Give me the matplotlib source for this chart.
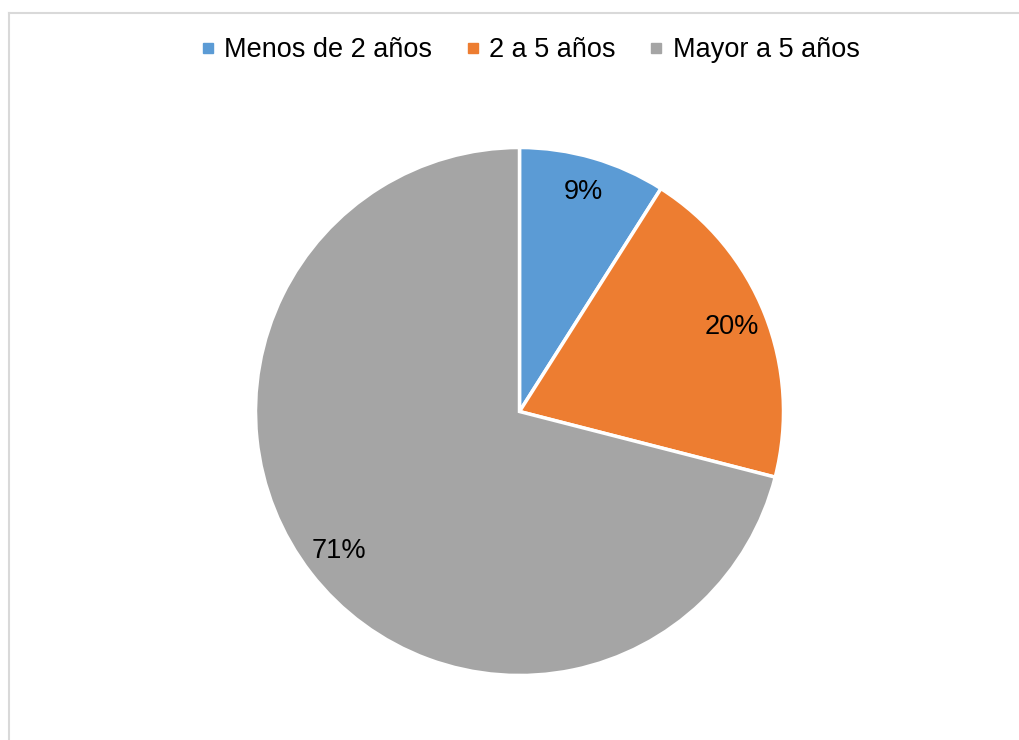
import matplotlib
matplotlib.use("Agg")
import matplotlib.pyplot as plt
from matplotlib.lines import Line2D

plt.rcParams['font.family'] = ['Liberation Sans', 'DejaVu Sans']

# Datos
categorias = ["Menos de 2 años", "2 a 5 años", "Mayor a 5 años"]
porcentajes = [9, 20, 71]
colores = ["#5b9bd5", "#ed7d31", "#a5a5a5"]

W, H = 1019, 740
fig = plt.figure(figsize=(W / 100, H / 100), dpi=100)

# Borde gris claro del área del gráfico
fig.add_artist(Line2D([9 / W, 9 / W], [0, 1 - 13 / H], color="#d9d9d9", lw=1.5))
fig.add_artist(Line2D([9 / W, 1], [1 - 13 / H, 1 - 13 / H], color="#d9d9d9", lw=1.5))

# Ejes cuadrados para el pastel
cx, cy, r = 519.5, 411.5, 264
ax = fig.add_axes([(cx - r) / W, (H - cy - r) / H, 2 * r / W, 2 * r / H])

wedges, textos, autotextos = ax.pie(
    porcentajes, colors=colores, startangle=90, counterclock=False,
    autopct=lambda p: f"{p:.0f}%", pctdistance=0.865,
    wedgeprops=dict(edgecolor="white", linewidth=2.5),
    textprops=dict(fontsize=19.5, color="black"))
ax.set_xlim(-1, 1)
ax.set_ylim(-1, 1)
ax.set_aspect("equal")
ax.axis("off")

# Leyenda superior
handles = [Line2D([], [], marker="s", linestyle="none", markersize=7,
                  markerfacecolor=c, markeredgecolor=c) for c in colores]
fig.legend(handles, categorias, loc="center", bbox_to_anchor=(527 / W, 1 - 50 / H),
           ncol=3, frameon=False, fontsize=19.5, handletextpad=0.1,
           columnspacing=1.0, handlelength=1.0)

fig.savefig("out.png", dpi=100)
